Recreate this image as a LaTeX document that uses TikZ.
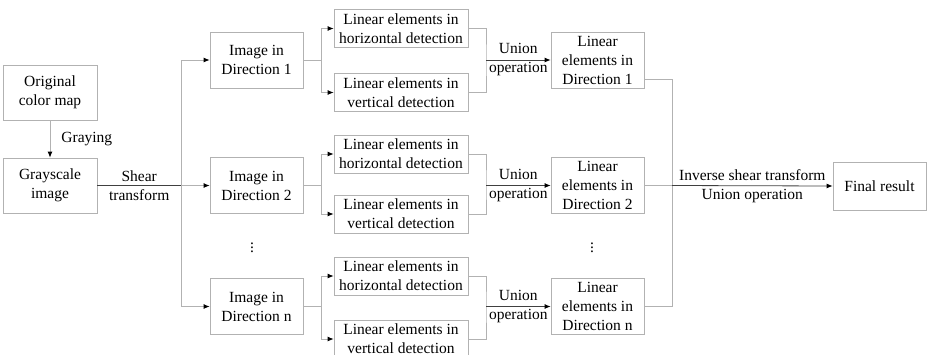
\documentclass[tikz,border=0pt]{standalone}
\usepackage{fontspec}
\setmainfont{Liberation Serif}
\usetikzlibrary{arrows.meta}

\tikzset{
  box/.style={draw=gray!60,line width=0.8pt,align=center,inner sep=0pt,
    text=black,font=\fontsize{15.5}{19}\selectfont},
  link/.style={gray!60,line width=0.8pt},
  dark/.style={black!75,line width=0.8pt},
  arr/.style={-{Latex[black,length=6pt,width=5pt]}},
  lab/.style={align=center,inner sep=0pt,text=black,
    font=\fontsize{15.5}{19}\selectfont}
}

\begin{document}
\begin{tikzpicture}[x=1pt,y=-1pt]

\useasboundingbox (0,0) rectangle (928,354);

\node[box,minimum width=94,minimum height=55] (orig) at (50,92.5) {Original\\color map};
\node[box,minimum width=94,minimum height=55] (gray) at (50,185.5) {Grayscale\\image};

\node[box,minimum width=93,minimum height=56] (img1) at (256.5,60) {Image in\\Direction 1};
\node[box,minimum width=93,minimum height=56] (img2) at (256.5,185.5) {Image in\\Direction 2};
\node[box,minimum width=93,minimum height=56] (imgn) at (256.5,306.5) {Image in\\Direction n};
\node[lab] (dots1) at (252,245) {$\vdots$};

\node[box,minimum width=134,minimum height=38] (hor1) at (401,28.5) {Linear elements in\\horizontal detection};
\node[box,minimum width=134,minimum height=38] (ver1) at (401,92.5) {Linear elements in\\vertical detection};
\node[box,minimum width=134,minimum height=38] (hor2) at (401,154) {Linear elements in\\horizontal detection};
\node[box,minimum width=134,minimum height=38] (ver2) at (401,214) {Linear elements in\\vertical detection};
\node[box,minimum width=134,minimum height=38] (horn) at (401,276) {Linear elements in\\horizontal detection};
\node[box,minimum width=134,minimum height=38] (vern) at (401,339) {Linear elements in\\vertical detection};

\node[box,minimum width=93,minimum height=56] (dir1) at (597.5,60) {Linear\\elements in\\Direction 1};
\node[box,minimum width=93,minimum height=56] (dir2) at (597.5,185.5) {Linear\\elements in\\Direction 2};
\node[box,minimum width=93,minimum height=56] (dirn) at (597.5,306.5) {Linear\\elements in\\Direction n};
\node[lab] (dots2) at (592,245) {$\vdots$};

\node[box,minimum width=93,minimum height=48] (final) at (879.5,186) {Final result};

% graying and shear
\draw[link,arr] (orig) -- (gray) node[lab,midway,right=11pt] {Graying};
\coordinate (split) at (181,185.5);
\draw[dark] (gray.east) -- (split) node[lab,midway] {Shear\\transform};
\draw[link,arr] (split) -- (img2.west);
\draw[link,arr] (split) |- (img1.west);
\draw[link,arr] (split) |- (imgn.west);

% direction 1
\coordinate (s1) at (321,60);
\coordinate (u1) at (486,60);
\draw[link] (img1.east) -- (s1);
\draw[link,arr] (s1) |- (hor1.west);
\draw[link,arr] (s1) |- (ver1.west);
\draw[link] (hor1.east) -| (u1) |- (ver1.east);
\draw[dark,arr] (u1) -- (dir1.west) node[lab,midway] {Union\\operation};

% direction 2
\coordinate (s2) at (321,185.5);
\coordinate (u2) at (486,185.5);
\draw[link] (img2.east) -- (s2);
\draw[link,arr] (s2) |- (hor2.west);
\draw[link,arr] (s2) |- (ver2.west);
\draw[link] (hor2.east) -| (u2) |- (ver2.east);
\draw[dark,arr] (u2) -- (dir2.west) node[lab,midway] {Union\\operation};

% direction n
\coordinate (sn) at (321,306.5);
\coordinate (un) at (486,306.5);
\draw[link] (imgn.east) -- (sn);
\draw[link,arr] (sn) |- (horn.west);
\draw[link,arr] (sn) |- (vern.west);
\draw[link] (horn.east) -| (un) |- (vern.east);
\draw[dark,arr] (un) -- (dirn.west) node[lab,midway] {Union\\operation};

% inverse shear
\coordinate (join) at (672,185.5);
\draw[link] ([yshift=-19pt]dir1.east) -| (join) |- (dirn.east);
\draw[link] (dir2.east) -- (join);
\draw[dark,arr] (join) -- (final.west) node[lab,midway] {Inverse shear transform\\Union operation};

\end{tikzpicture}
\end{document}
